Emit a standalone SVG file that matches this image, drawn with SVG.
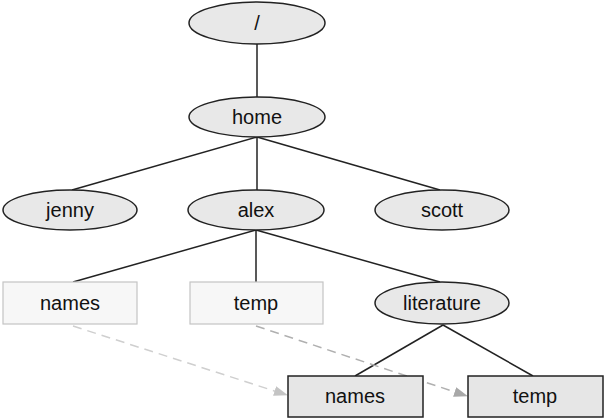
<svg xmlns="http://www.w3.org/2000/svg" width="605" height="419" viewBox="0 0 605 419">
<style>
.e{fill:#e8e8e8;stroke:#222;stroke-width:1.5}
.lb{fill:#f7f7f7;stroke:#c4c4c4;stroke-width:1.2}
.db{fill:#e6e6e6;stroke:#222;stroke-width:1.5}
.t{font-family:"Liberation Sans",Arial,sans-serif;font-size:20px;fill:#111;text-anchor:middle;dominant-baseline:central}
.c{stroke:#222;stroke-width:1.5;fill:none}
.d1{stroke:#cfcfcf;stroke-width:1.5;stroke-dasharray:9,6;fill:none}
.d2{stroke:#b0b0b0;stroke-width:1.5;stroke-dasharray:9,6;fill:none}
</style>
<defs>
<marker id="a1" viewBox="0 0 14 10" refX="13" refY="5" markerWidth="14" markerHeight="10" markerUnits="userSpaceOnUse" orient="auto"><path d="M0,0 L14,5 L0,10 z" fill="#c4c4c4"/></marker>
<marker id="a2" viewBox="0 0 14 10" refX="13" refY="5" markerWidth="14" markerHeight="10" markerUnits="userSpaceOnUse" orient="auto"><path d="M0,0 L14,5 L0,10 z" fill="#a8a8a8"/></marker>
</defs>
<g id="connectors">
<line class="c" x1="257" y1="44" x2="257" y2="97"/>
<line class="c" x1="257" y1="137" x2="72" y2="190"/>
<line class="c" x1="257" y1="137" x2="257" y2="190"/>
<line class="c" x1="257" y1="137" x2="440" y2="190"/>
<line class="c" x1="256" y1="230" x2="73" y2="282"/>
<line class="c" x1="256" y1="230" x2="256" y2="282"/>
<line class="c" x1="256" y1="230" x2="440" y2="282"/>
<line class="c" x1="443" y1="325" x2="355" y2="376"/>
<line class="c" x1="443" y1="325" x2="533" y2="376"/>
<line class="d1" x1="73" y1="326" x2="287" y2="395" marker-end="url(#a1)"/>
<line class="d2" x1="256" y1="326" x2="467" y2="396" marker-end="url(#a2)"/>
</g>
<g id="root"><ellipse class="e" cx="257" cy="23" rx="68" ry="21"/><text class="t" x="257" y="23">/</text></g>
<g id="home"><ellipse class="e" cx="257" cy="117" rx="68" ry="20"/><text class="t" x="257" y="117">home</text></g>
<g id="jenny"><ellipse class="e" cx="70" cy="210" rx="67" ry="20"/><text class="t" x="70" y="210">jenny</text></g>
<g id="alex"><ellipse class="e" cx="256" cy="210" rx="68" ry="20"/><text class="t" x="256" y="210">alex</text></g>
<g id="scott"><ellipse class="e" cx="442" cy="210" rx="67" ry="20"/><text class="t" x="442" y="210">scott</text></g>
<g id="names1"><rect class="lb" x="3" y="282" width="134" height="42"/><text class="t" x="70" y="303">names</text></g>
<g id="temp1"><rect class="lb" x="190" y="282" width="133" height="42"/><text class="t" x="256" y="303">temp</text></g>
<g id="literature"><ellipse class="e" cx="442" cy="303" rx="67" ry="21"/><text class="t" x="442" y="303">literature</text></g>
<g id="names2"><rect class="db" x="288" y="376" width="135" height="41"/><text class="t" x="355" y="396">names</text></g>
<g id="temp2"><rect class="db" x="468" y="376" width="135" height="41"/><text class="t" x="535" y="396">temp</text></g>
</svg>
